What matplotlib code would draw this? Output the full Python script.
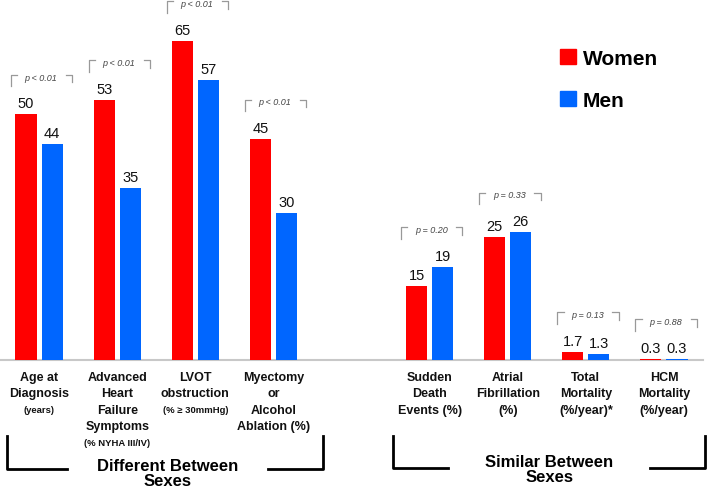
import numpy as np
import matplotlib
matplotlib.use("Agg")
from matplotlib import pyplot as plt
from matplotlib import transforms
from matplotlib.patches import Patch

plt.rcParams['font.family'] = ['Liberation Sans', 'DejaVu Sans']

# data
positions = [0, 1, 2, 3, 5, 6, 7, 8]
women = [50, 53, 65, 45, 15, 25, 1.7, 0.3]
men = [44, 35, 57, 30, 19, 26, 1.3, 0.3]
women_txt = ['50', '53', '65', '45', '15', '25', '1.7', '0.3']
men_txt = ['44', '35', '57', '30', '19', '26', '1.3', '0.3']
pvals = ['p < 0.01', 'p < 0.01', 'p < 0.01', 'p < 0.01',
         'p = 0.20', 'p = 0.33', 'p = 0.13', 'p = 0.88']
# (line, small?)
cat_lines = [
    [('Age at', 0), ('Diagnosis', 0), ('(years)', 1)],
    [('Advanced', 0), ('Heart', 0), ('Failure', 0), ('Symptoms', 0), ('(% NYHA III/IV)', 1)],
    [('LVOT', 0), ('obstruction', 0), ('(% \u2265 30mmHg)', 1)],
    [('Myectomy', 0), ('or', 0), ('Alcohol', 0), ('Ablation (%)', 0)],
    [('Sudden', 0), ('Death', 0), ('Events (%)', 0)],
    [('Atrial', 0), ('Fibrillation', 0), ('(%)', 0)],
    [('Total', 0), ('Mortality', 0), ('(%/year)*', 0)],
    [('HCM', 0), ('Mortality', 0), ('(%/year)', 0)],
]
groups = ['Different Between\nSexes', 'Similar Between\nSexes']

RED = '#ff0000'
BLUE = '#0066ff'
W, H = 709, 489

fig = plt.figure(figsize=(W/100, H/100), dpi=100)
ax = fig.add_axes([0, 128/H, 703/W, 361/H])

x = np.array(positions, dtype=float)
bw = 0.27
off = 0.167
ax.bar(x - off, women, bw, color=RED, label='Women', zorder=3)
ax.bar(x + off, men, bw, color=BLUE, label='Men', zorder=3)

ax.set_xlim(-0.5, 8.5)
ax.set_ylim(0, 73.5)
for s in ['top', 'right', 'left']:
    ax.spines[s].set_visible(False)
ax.spines['bottom'].set_color('#c8c8c8')
ax.spines['bottom'].set_linewidth(1.5)
ax.set_xticks([])
ax.set_yticks([])

# value labels
for i in range(len(x)):
    ax.annotate(women_txt[i], (x[i] - off, women[i]), xytext=(0, 5), textcoords='offset points',
                ha='center', va='baseline', fontsize=10.5, color='#111111')
    ax.annotate(men_txt[i], (x[i] + off, men[i]), xytext=(0, 5), textcoords='offset points',
                ha='center', va='baseline', fontsize=10.5, color='#111111')

# p-value brackets
for i in range(len(x)):
    top = max(women[i], men[i]) + 8
    l, r = x[i] - 0.365, x[i] + 0.42
    ax.plot([l, l, l + 0.08], [top - 2.3, top, top], color='#999999', lw=0.9, clip_on=False)
    ax.plot([r - 0.08, r, r], [top, top, top - 1.5], color='#999999', lw=0.9, clip_on=False)
    ax.text(x[i] + 0.02, top - 0.4, pvals[i], ha='center', va='center', fontsize=6.5,
            style='italic', color='#444444')

# category labels
tr = transforms.blended_transform_factory(ax.transData, fig.transFigure)
line_y = [378.3, 394.5, 410.7, 427.2, 443.5]
for i, lines in enumerate(cat_lines):
    for j, (t, small) in enumerate(lines):
        ax.text(x[i], 1 - line_y[j]/H, t, transform=tr, ha='center', va='center',
                fontsize=6.8 if small else 9, fontweight='bold', color='#111111')

# group brackets
def gbracket(x0, x1, x2, x3, ytop, ybot):
    ax.plot([x0, x0, x1], [1 - ytop/H, 1 - ybot/H, 1 - ybot/H], transform=tr,
            color='black', lw=2, clip_on=False, solid_joinstyle='round')
    ax.plot([x2, x3, x3], [1 - ybot/H, 1 - ybot/H, 1 - ytop/H], transform=tr,
            color='black', lw=2, clip_on=False, solid_joinstyle='round')

gbracket(-0.41, 0.36, 2.93, 3.64, 437, 470)
gbracket(4.53, 5.24, 7.82, 8.52, 437, 469)
ax.text(1.64, 1 - 474.5/H, groups[0], transform=tr, ha='center', va='center',
        fontsize=12, fontweight='bold', linespacing=1.0)
ax.text(6.53, 1 - 470/H, groups[1], transform=tr, ha='center', va='center',
        fontsize=12, fontweight='bold', linespacing=1.0)

# legend
handles = [Patch(color=RED, label='Women'), Patch(color=BLUE, label='Men')]
fig.legend(handles=handles, loc='upper left', bbox_to_anchor=(560/W, 1 - 50/H),
           frameon=False, borderpad=0, borderaxespad=0, handlelength=0.75, handleheight=0.75,
           handletextpad=0.35, labelspacing=1.1, prop={'weight': 'bold', 'size': 15})

plt.savefig('out.png', dpi=100)
